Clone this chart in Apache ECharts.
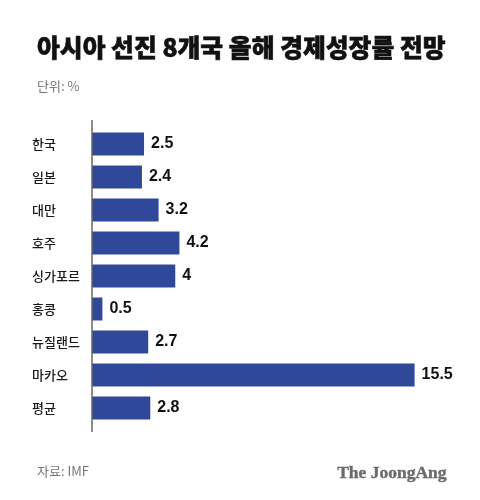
<!DOCTYPE html>
<html>
<head>
<meta charset="UTF-8">
<script src="https://cdn.jsdelivr.net/npm/echarts@6/dist/echarts.min.js"></script>
<style>
body { margin:0; padding:0; background:#fff; }
#chart { width:480px; height:500px; }
</style>
</head>
<body><div id="chart"></div>
<script>
// 아시아 선진 8개국 올해 경제성장률 전망 (단위: %)
var countries = ['한국', '일본', '대만', '호주', '싱가포르', '홍콩', '뉴질랜드', '마카오', '평균'];
var growth = [2.5, 2.4, 3.2, 4.2, 4, 0.5, 2.7, 15.5, 2.8];

var FONT = '"Noto Sans CJK KR", "Noto Sans", sans-serif';
var NUM_FONT = '"Liberation Sans", Arial, sans-serif';
var BAR = '#30489a';

var c = echarts.init(document.getElementById('chart'));
c.setOption({
  animation: false,
  backgroundColor: '#fff',
  title: [
    { text: '아시아 선진 8개국 올해 경제성장률 전망', left: 32, top: 30,
      textStyle: { fontFamily: FONT, fontSize: 24.8, fontWeight: 900, color: '#111',
        textBorderColor: '#111', textBorderWidth: 0.6 } },
    { text: '단위: %', left: 32, top: 75,
      textStyle: { fontFamily: FONT, fontSize: 13, fontWeight: 400, color: '#777' } },
    { text: '자료: IMF', left: 32, top: 460,
      textStyle: { fontFamily: FONT, fontSize: 13, fontWeight: 400, color: '#777' } },
    { text: 'The JoongAng', right: 28, top: 459,
      textStyle: { fontFamily: '"Liberation Serif", "DejaVu Serif", serif', fontSize: 17.5, fontWeight: 'bold', color: '#6b6b6b',
        textBorderColor: '#6b6b6b', textBorderWidth: 0.4 } }
  ],
  grid: { left: 92, top: 127.5, width: 333, height: 297, containLabel: false },
  xAxis: {
    type: 'value', min: 0, max: 16,
    show: false
  },
  yAxis: {
    type: 'category', data: countries, inverse: true,
    axisLine: { show: false },
    axisTick: { show: false },
    axisLabel: { align: 'left', margin: 60, fontFamily: FONT, fontSize: 13, fontWeight: 500, color: '#1a1a1a' }
  },
  graphic: [
    { type: 'line', shape: { x1: 92, y1: 120, x2: 92, y2: 432 },
      style: { stroke: '#666', lineWidth: 1.5 }, z: 10 }
  ],
  series: [{
    type: 'bar',
    data: growth,
    barWidth: 23,
    itemStyle: { color: BAR },
    label: {
      show: true, position: 'right', distance: 7,
      fontFamily: NUM_FONT, fontSize: 16, fontWeight: 'bold', color: '#111'
    }
  }]
});
</script>
</body></html>
